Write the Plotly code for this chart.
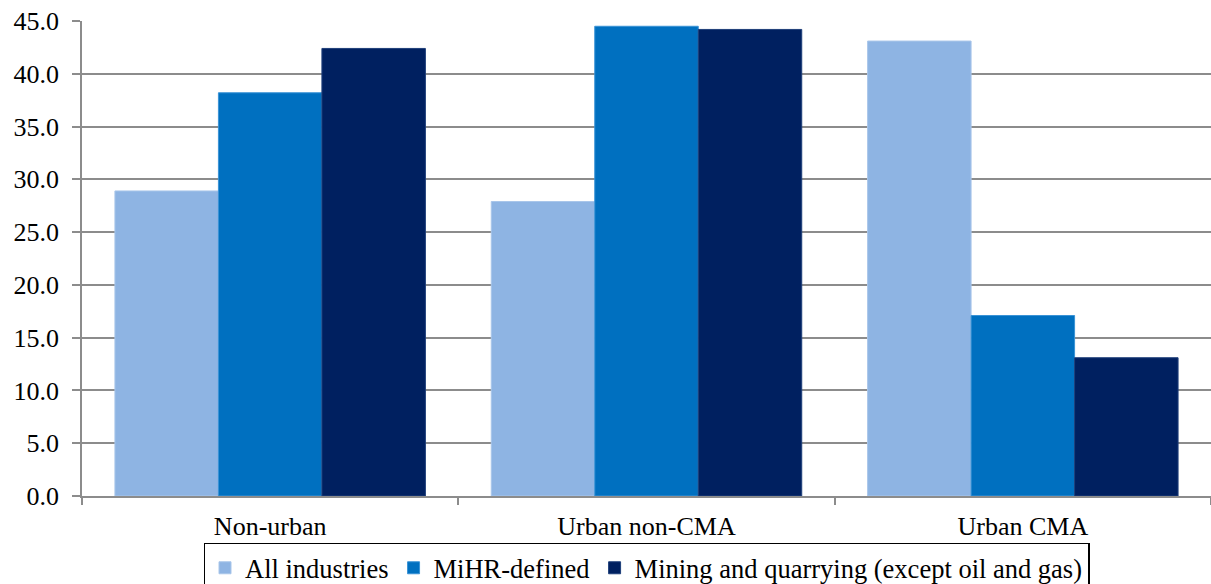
import plotly.graph_objects as go

categories = ["Non-urban", "Urban non-CMA", "Urban CMA"]
all_industries = [28.9, 27.9, 43.1]
mihr_defined = [38.2, 44.5, 17.1]
mining = [42.4, 44.2, 13.1]

series = [
    ("All industries", all_industries, "#8EB4E3", "#A9C6EA"),
    ("MiHR-defined", mihr_defined, "#0070C0", "#3A93D6"),
    ("Mining and quarrying (except oil and gas)", mining, "#002060", "#1F3F7A"),
]

FONT = "Liberation Serif"
GRID = "#8C8C8C"

fig = go.Figure()
for name, vals, col, edge in series:
    fig.add_trace(go.Bar(
        x=categories, y=vals, name=name,
        marker=dict(color=col, line=dict(color=edge, width=1)),
    ))

fig.update_layout(
    width=1211, height=584,
    margin=dict(l=82, r=0, t=21, b=88, autoexpand=False),
    paper_bgcolor="white", plot_bgcolor="white",
    barmode="group", bargap=0.175, bargroupgap=0,
    font=dict(family=FONT, size=26, color="black"),
    showlegend=True,
    legend=dict(
        orientation="h", x=0.5, xanchor="center", y=-0.098, yanchor="top",
        bordercolor="black", borderwidth=1.5,
        font=dict(family=FONT, size=26.5, color="black"),
        itemwidth=30, tracegroupgap=0, traceorder="normal",
    ),
)
fig.update_yaxes(
    range=[0, 45], dtick=5, tickformat=".1f",
    showgrid=True, gridcolor=GRID, gridwidth=1.5,
    showline=True, linecolor=GRID, linewidth=1.5,
    ticks="outside", ticklen=8, tickcolor=GRID, tickwidth=1.5,
    ticklabelstandoff=8,
    zeroline=False, fixedrange=True,
    tickfont=dict(family=FONT, size=26, color="black"),
)
fig.update_xaxes(
    showline=True, linecolor=GRID, linewidth=2,
    ticks="outside", ticklen=7, tickcolor=GRID, tickwidth=1.5,
    tickson="boundaries", ticklabelstandoff=6,
    tickfont=dict(family=FONT, size=26, color="black"),
)

fig.write_html("out.html")
